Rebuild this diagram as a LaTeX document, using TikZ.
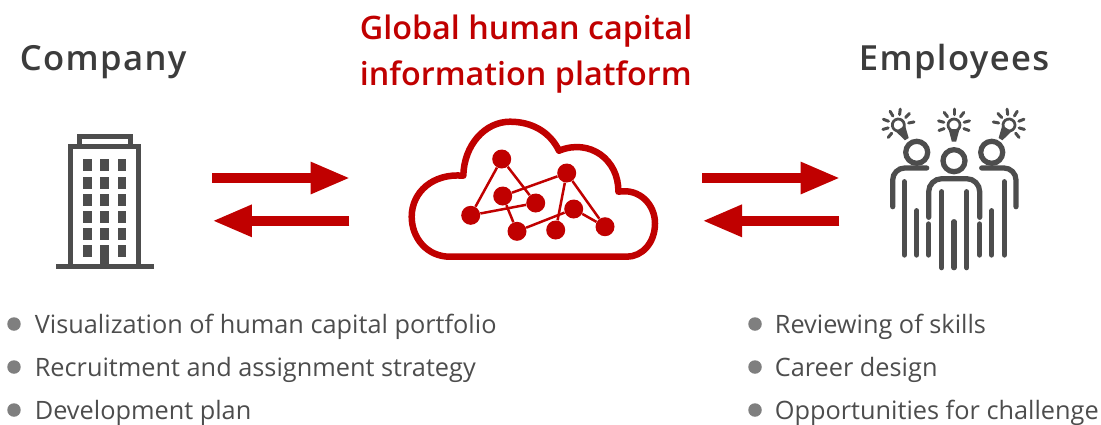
\documentclass[tikz,border=0pt]{standalone}
\usepackage{fontspec}
\setmainfont{Open Sans}
\newfontfamily\headfont{Open Sans Semibold}
\newfontfamily\sidefont[LetterSpace=4]{Open Sans Semibold}
\usetikzlibrary{arrows.meta}
\definecolor{brandred}{HTML}{C00000}
\definecolor{icongray}{HTML}{4D4D4D}
\definecolor{headgray}{HTML}{3C3C3C}
\definecolor{dotgray}{HTML}{7F7F7F}
\tikzset{
	heading/.style={anchor=base west, inner sep=0pt, text=brandred, font=\fontsize{18.4pt}{22pt}\headfont},
	sideheading/.style={anchor=base west, inner sep=0pt, text=headgray, font=\fontsize{19.7pt}{24pt}\sidefont},
	itemtext/.style={anchor=base west, inner sep=0pt, text=icongray, font=\fontsize{14.4pt}{18pt}\selectfont},
	itemdot/.style={circle, fill=dotgray, minimum size=0.27cm, inner sep=0pt},
	bigarrow/.style={line width=0.21cm, color=brandred, -{Triangle[length=0.8cm, width=0.59cm]}},
	netdot/.style={circle, fill=brandred, minimum size=0.38cm, inner sep=0pt},
	netline/.style={line width=0.05cm, color=brandred},
	figline/.style={line width=0.105cm, color=icongray, line cap=round},
	rayline/.style={line width=0.06cm, color=icongray, line cap=round}
}
\begin{document}
\begin{tikzpicture}[x=0.02cm,y=-0.02cm]
	\useasboundingbox (0,0) rectangle (1101,424);

	% headings
	\node[sideheading] (company) at (19.5,70) {Company};
	\node[sideheading] (employees) at (858.5,70) {Employees};
	\node[heading] (platformA) at (359.5,39) {Global human capital};
	\node[heading] (platformB) at (359.5,85.5) {information platform};

	% building
	\draw[line width=0.1cm, color=icongray] (79,144) |- (130,136.5) -- (130,144);
	\draw[line width=0.1cm, color=icongray] (70,266) |- (138.5,146.5) -- (138.5,266);
	\fill[color=icongray] (55.5,264) rectangle (153.5,269);
	\foreach \x in {83,100.3,117.7}
		\foreach \y in {159.3,176.5,193.7,211,228,245}
			\fill[color=icongray] (\x,\y) rectangle (\x+8.7,\y+12);
	\fill[color=icongray] (100.3,245) rectangle (109,266);

	% arrows
	\coordinate (leftA) at (212.3,178);
	\coordinate (leftB) at (350.5,178);
	\coordinate (leftC) at (349.3,220.8);
	\coordinate (leftD) at (212,220.8);
	\coordinate (rightA) at (702.3,178);
	\coordinate (rightB) at (840.5,178);
	\coordinate (rightC) at (839.3,220.8);
	\coordinate (rightD) at (702,220.8);
	\draw[bigarrow] (leftA) -- (leftB);
	\draw[bigarrow] (leftC) -- (leftD);
	\draw[bigarrow] (rightA) -- (rightB);
	\draw[bigarrow] (rightC) -- (rightD);

	% cloud
	\draw[line width=0.13cm, color=brandred, line join=round]
		(450,256.7) .. controls (427,256.7) and (411.7,238) .. (411.7,216.7)
		.. controls (411.7,192) and (433,173) .. (463.3,175.7)
		.. controls (464,145) and (485,121.7) .. (510,121.7)
		.. controls (532,121.7) and (550,132) .. (559,150.7)
		.. controls (590,138) and (619,160) .. (618.3,191.7)
		.. controls (640,188) and (655,205) .. (655,223.3)
		.. controls (655,243) and (642,256.7) .. (626.7,256.7) -- cycle;
	\node[netdot] (netA) at (501.7,159) {};
	\node[netdot] (netB) at (470.7,215.3) {};
	\node[netdot] (netC) at (502.7,196) {};
	\node[netdot] (netD) at (535.7,203) {};
	\node[netdot] (netE) at (517,231.3) {};
	\node[netdot] (netF) at (566.7,173) {};
	\node[netdot] (netG) at (573.7,209) {};
	\node[netdot] (netH) at (555.7,230) {};
	\node[netdot] (netI) at (605,226.7) {};
	\draw[netline] (netA) -- (netB);
	\draw[netline] (netA) -- (netD);
	\draw[netline] (netB) -- (netD);
	\draw[netline] (netC) -- (netF);
	\draw[netline] (netC) -- (netE);
	\draw[netline] (netE) -- (netG);
	\draw[netline] (netF) -- (netH);
	\draw[netline] (netF) -- (netI);
	\draw[netline] (netG) -- (netI);

	% people
	\draw[figline] (954,160.7) circle (11);
	\draw[figline] (916.7,152.3) circle (11);
	\draw[figline] (991.7,152.3) circle (11);
	\draw[figline] (928.7,217.3) -- (928.7,191.7) arc[start angle=180, end angle=270, radius=13] -- (966.7,178.7) arc[start angle=270, end angle=360, radius=13] -- (979.7,217.3);
	\draw[figline] (892.7,206.7) -- (892.7,180) arc[start angle=180, end angle=270, radius=12] -- (926.7,168);
	\draw[figline] (1016,206.7) -- (1016,180) arc[start angle=0, end angle=-90, radius=12] -- (981.7,168);
	\foreach \x in {941.7,966.7}
		\draw[figline] (\x,191.7) -- (\x,267.7);
	\draw[figline] (954,221.7) -- (954,267.7);
	\foreach \x in {928.7,979.7}
		\draw[figline] (\x,224) -- (\x,255);
	\foreach \x in {904.3,1004.3}
		\draw[figline] (\x,181.7) -- (\x,255);
	\foreach \x in {916.7,991.7}
		\draw[figline] (\x,210.7) -- (\x,255);

	% bulbs
	\foreach \x/\r in {898.3/31,954/0,1009/-31} {
		\begin{scope}[shift={(\x,125)},rotate=\r]
			\draw[line width=0.055cm, color=icongray] (0,0) circle (6);
			\fill[color=icongray, line join=round] (-5.5,4) -- (5.5,4) -- (2.2,16.5) -- (-2.2,16.5) -- cycle;
			\foreach \a in {90,128,52,165,15,200,-20}
				\draw[rayline] (\a:-10.5) -- (\a:-16);
		\end{scope}
	}

	% lists
	\foreach \y/\t/\n in {324/Visualization of human capital portfolio/A,367/Recruitment and assignment strategy/B,410/Development plan/C} {
		\node[itemdot] (dot\n) at (14,\y) {};
		\node[itemtext] (item\n) at (34.5,\y+9) {\t};
	}
	\foreach \y/\t/\n in {324/Reviewing of skills/D,367/Career design/E,410/Opportunities for challenge/F} {
		\node[itemdot] (dot\n) at (755,\y) {};
		\node[itemtext] (item\n) at (774.5,\y+9) {\t};
	}
\end{tikzpicture}
\end{document}
